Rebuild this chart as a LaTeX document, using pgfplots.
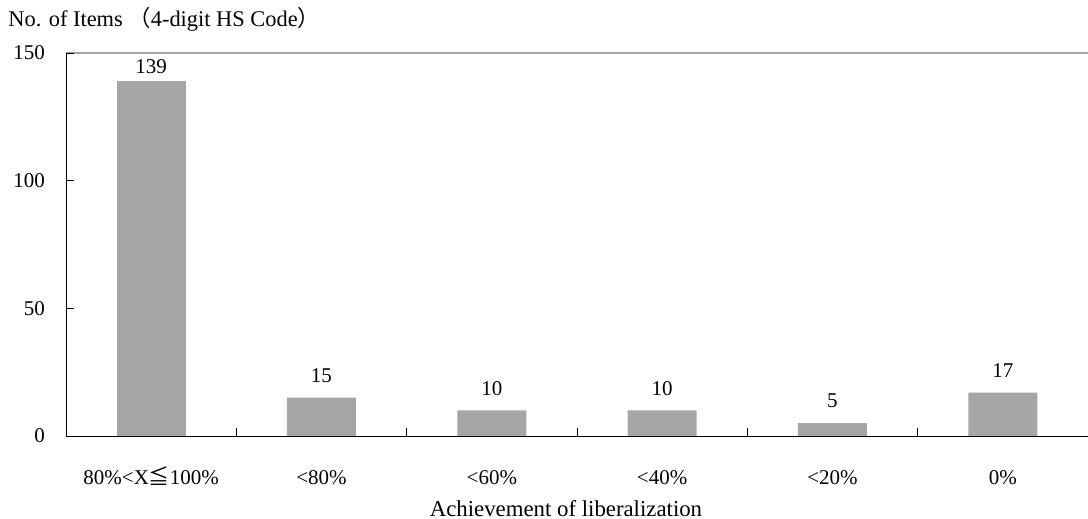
\documentclass[border=0pt]{standalone}
\usepackage{pgfplots}
\pgfplotsset{compat=1.18}
\usepackage{fontspec}
\setmainfont{Liberation Serif}
\newfontfamily\cjk{Noto Sans CJK JP}

\definecolor{bargray}{RGB}{166,166,166}

\begin{document}
\begin{tikzpicture}[font=\fontsize{10.5}{12}\selectfont]
  \begin{axis}[
    scale only axis,
    width=511pt, height=191.5pt,
    xmin=-0.5, xmax=5.5,
    ymin=0, ymax=150,
    axis line style={draw=none},
    ytick={0,50,100,150},
    xtick={0,...,5},
    xticklabels={80\%<X{\cjk ≦}100\%, <80\%, <60\%, <40\%, <20\%, 0\%},
    major tick length=0pt,
    /pgf/number format/assume math mode=true,
    x tick label style={anchor=base, yshift=-24.5pt},
    y tick label style={xshift=-7pt},
    clip=false,
    ybar, bar width=34.5pt, bar shift=0pt,
    nodes near coords,
  ]
    \draw[gray!70, line width=1.2pt] (axis cs:-0.5,150) -- (axis cs:5.5,150);
    \addplot[fill=bargray, draw=none] coordinates {(0,139)};
    \addplot[fill=bargray, draw=none,
      every node near coord/.append style={yshift=4pt}]
      coordinates {(1,15) (2,10) (3,10) (4,5) (5,17)};
    \draw[black, thin] (axis cs:-0.5,150) -- (axis cs:-0.5,0) -- (axis cs:5.5,0);
    % tick marks, pointing into the plot
    \draw[black, thin] (axis cs:-0.5,50)  -- (axis cs:-0.455,50);
    \draw[black, thin] (axis cs:-0.5,100) -- (axis cs:-0.455,100);
    \draw[black, thin] (axis cs:-0.5,150) -- (axis cs:-0.455,150);
    \draw[black, thin] (axis cs:0.5,0) -- (axis cs:0.5,3.1);
    \draw[black, thin] (axis cs:1.5,0) -- (axis cs:1.5,3.1);
    \draw[black, thin] (axis cs:2.5,0) -- (axis cs:2.5,3.1);
    \draw[black, thin] (axis cs:3.5,0) -- (axis cs:3.5,3.1);
    \draw[black, thin] (axis cs:4.5,0) -- (axis cs:4.5,3.1);
  \end{axis}
  \node[anchor=base west, inner sep=0pt, font=\fontsize{11.2}{13}\selectfont]
    at (-29pt,204.5pt) {No. of Items {\cjk （}4-digit HS Code{\cjk ）}};
  \node[anchor=base, inner sep=0pt, font=\fontsize{11.4}{13}\selectfont]
    at (250pt,-40.5pt) {Achievement of liberalization};
  \pgfresetboundingbox
  \path (-33pt,-41.5pt) rectangle (511pt,218pt);
\end{tikzpicture}
\end{document}
